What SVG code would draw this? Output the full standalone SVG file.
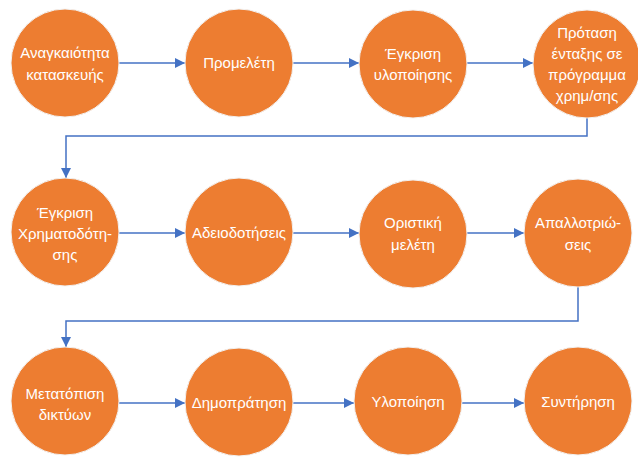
<svg xmlns="http://www.w3.org/2000/svg" width="638" height="457" viewBox="0 0 638 457">
<style>
.node circle{fill:#ED7D31;stroke:#f2f2f2;stroke-width:1}
.node text{font-family:"Liberation Sans","DejaVu Sans",sans-serif;font-size:15px;fill:#ffffff;text-anchor:middle}
.conn path{fill:none;stroke:#4472C4;stroke-width:1.5;marker-end:url(#ah)}
</style>
<defs>
<marker id="ah" viewBox="0 0 10 10" refX="10" refY="5" markerWidth="7" markerHeight="7" orient="auto" markerUnits="strokeWidth">
<path d="M0,0 L10,5 L0,10 z" fill="#4472C4"/>
</marker>
</defs>
<rect width="638" height="457" fill="#ffffff"/>
<g class="conn">
<path d="M119,63 H185"/>
<path d="M293,63 H359"/>
<path d="M467,63 H533"/>
<path d="M587,117 V136 H66 V178"/>
<path d="M119,233 H185"/>
<path d="M293,233 H359"/>
<path d="M467,233 H524"/>
<path d="M578,287 V321 H66 V347"/>
<path d="M119,403 H185"/>
<path d="M293,403 H354"/>
<path d="M462,403 H524"/>
</g>
<g id="n1" class="node"><circle cx="65" cy="63" r="54"/><text x="65" y="58">Αναγκαιότητα</text><text x="65" y="80">κατασκευής</text></g>
<g id="n2" class="node"><circle cx="239" cy="63" r="54"/><text x="239" y="68">Προμελέτη</text></g>
<g id="n3" class="node"><circle cx="413" cy="64" r="54"/><text x="413" y="59">Έγκριση</text><text x="413" y="80">υλοποίησης</text></g>
<g id="n4" class="node"><circle cx="587" cy="64" r="54"/><text x="587" y="38">Πρόταση</text><text x="587" y="59">ένταξης σε</text><text x="587" y="80">πρόγραμμα</text><text x="587" y="101">χρημ/σης</text></g>
<g id="n5" class="node"><circle cx="65" cy="232" r="54"/><text x="65" y="218">Έγκριση</text><text x="65" y="239">Χρηματοδότη-</text><text x="65" y="260">σης</text></g>
<g id="n6" class="node"><circle cx="239" cy="232" r="54"/><text x="239" y="238">Αδειοδοτήσεις</text></g>
<g id="n7" class="node"><circle cx="413" cy="234" r="54"/><text x="413" y="228">Οριστική</text><text x="413" y="250">μελέτη</text></g>
<g id="n8" class="node"><circle cx="578" cy="233" r="54"/><text x="578" y="228">Απαλλοτριώ-</text><text x="578" y="250">σεις</text></g>
<g id="n9" class="node"><circle cx="65" cy="401" r="54"/><text x="65" y="399">Μετατόπιση</text><text x="65" y="420">δικτύων</text></g>
<g id="n10" class="node"><circle cx="239" cy="402" r="54"/><text x="239" y="408">Δημοπράτηση</text></g>
<g id="n11" class="node"><circle cx="408" cy="401" r="54"/><text x="408" y="407">Υλοποίηση</text></g>
<g id="n12" class="node"><circle cx="578" cy="401" r="54"/><text x="578" y="407">Συντήρηση</text></g>
</svg>
